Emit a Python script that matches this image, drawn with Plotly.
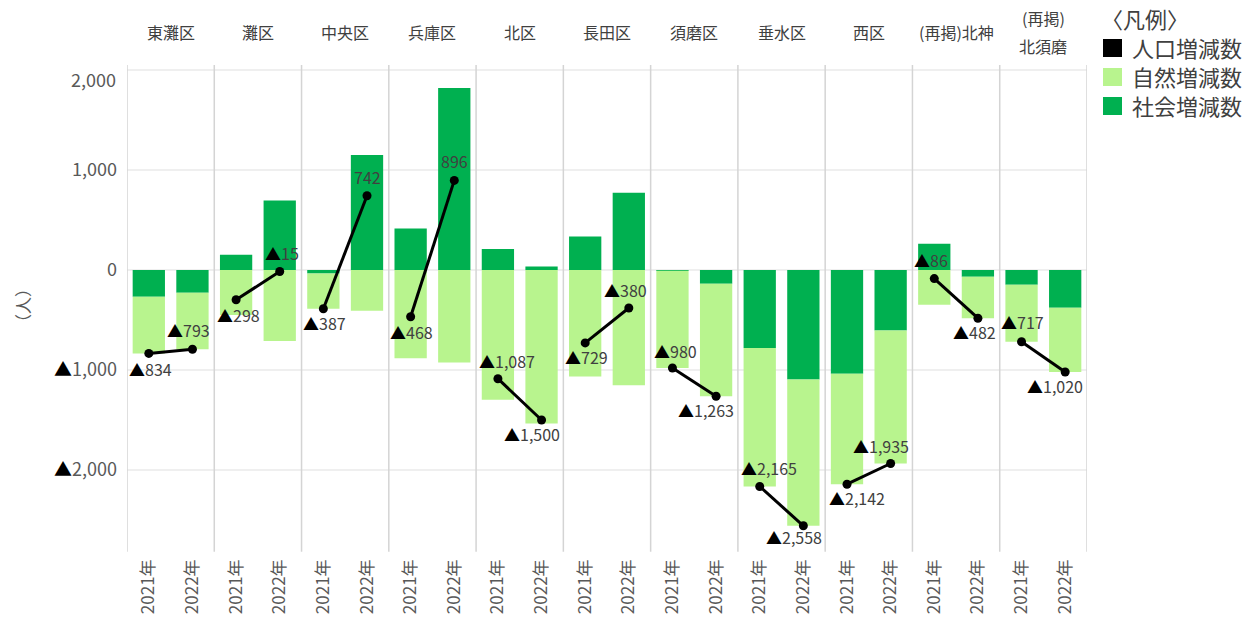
import plotly.graph_objects as go

# ---------------- data ----------------
wards = ["東灘区", "灘区", "中央区", "兵庫区", "北区", "長田区", "須磨区",
         "垂水区", "西区", "(再掲)北神", "(再掲)\n北須磨"]
years = ["2021年", "2022年"]
# 人口増減数 (population change), 2021/2022 per ward
population = [-834, -793, -298, -15, -387, 742, -468, 896, -1087, -1500,
              -729, -380, -980, -1263, -2165, -2558, -2142, -1935,
              -86, -482, -717, -1020]
# 社会増減数 (social change)
social = [-268, -228, 152, 695, -35, 1150, 415, 1820, 210, 35,
          335, 772, -8, -138, -780, -1095, -1038, -605,
          262, -67, -147, -377]
# 自然増減数 (natural change)
natural = [-566, -565, -450, -710, -352, -408, -883, -924, -1297, -1535,
           -1064, -1152, -972, -1125, -1385, -1463, -1104, -1330,
           -348, -415, -570, -643]
y_ticks = [-2000, -1000, 0, 1000, 2000]
legend_title = "〈凡例〉"
series_names = ["人口増減数", "自然増減数", "社会増減数"]
y_title = "（人）"

# ---------------- style ----------------
C_DARK = "#00B050"
C_LIGHT = "#B8F48E"
FONT = "Noto Sans CJK JP"
TXT = "#404040"
TICK = "#595959"

# label offsets (pixels) for each population label: (xshift, yshift)
label_shift = [(2, -16), (-4, 19), (2, -15), (2, 19), (1, -14), (0, 19),
               (1, -15), (0, 19), (9, 18), (-10, -14), (1, -14), (-3, 18),
               (3, 17), (-10, -14), (9, 19), (-9, -11), (10, -14), (-10, 18),
               (-3, 19), (-3, -14), (1, 20), (-10, -14)]

PL, PR, PT, PB = 127, 1087, 65, 548


def xp(px):
    return (px - PL) / (PR - PL)


def yp(py):
    return (PB - py) / (PB - PT)


def fmt(v):
    s = f"{abs(v):,}"
    return ("<span style='color:black'>▲</span>" + s) if v < 0 else s


n = len(population)
xs = list(range(n))
ticktext = [y for _ in wards for y in years]
y_ticktext = [fmt(v) for v in y_ticks]

fig = go.Figure()
fig.add_trace(go.Bar(x=xs, y=social, name=series_names[2],
                     marker=dict(color=C_DARK, line=dict(width=0)),
                     showlegend=False, hoverinfo="y"))
fig.add_trace(go.Bar(x=xs, y=natural, name=series_names[1],
                     marker=dict(color=C_LIGHT, line=dict(width=0)),
                     showlegend=False, hoverinfo="y"))

# population line: segments within each ward only
lx, ly = [], []
for g in range(len(wards)):
    lx += [2 * g, 2 * g + 1, None]
    ly += [population[2 * g], population[2 * g + 1], None]
fig.add_trace(go.Scatter(x=lx, y=ly, mode="lines+markers", name=series_names[0],
                         line=dict(color="black", width=3),
                         marker=dict(color="black", size=9),
                         showlegend=False, connectgaps=False))

annotations = []
for i, v in enumerate(population):
    dx, dy = label_shift[i]
    annotations.append(dict(x=i, y=v, xref="x", yref="y", text=fmt(v),
                            showarrow=False, xshift=dx, yshift=dy,
                            xanchor="center", yanchor="middle",
                            font=dict(family=FONT, size=16, color=TXT)))

# ward names on top
for g, w in enumerate(wards):
    lines = w.split("\n")
    if len(lines) == 1:
        annotations.append(dict(x=2 * g + 0.5, y=yp(32), xref="x", yref="paper",
                                text=w, showarrow=False, xanchor="center",
                                yanchor="middle",
                                font=dict(family=FONT, size=16, color=TXT)))
    else:
        for k, ln in enumerate(lines):
            annotations.append(dict(x=2 * g + 0.5, y=yp(18 + 28 * k), xref="x",
                                    yref="paper", text=ln, showarrow=False,
                                    xanchor="center", yanchor="middle",
                                    font=dict(family=FONT, size=16, color=TXT)))

# top y tick label (drawn slightly below its gridline, as in the original)
annotations.append(dict(x=xp(118), y=yp(79), xref="paper", yref="paper",
                        text=y_ticktext[-1], showarrow=False, xanchor="right",
                        yanchor="middle",
                        font=dict(family=FONT, size=18, color=TICK)))

# y-axis title
annotations.append(dict(x=xp(22), y=yp(306), xref="paper", yref="paper",
                        text=y_title, textangle=-90, showarrow=False,
                        xanchor="center", yanchor="middle",
                        font=dict(family=FONT, size=17, color=TICK)))

# manual legend
annotations.append(dict(x=xp(1099), y=yp(18), xref="paper", yref="paper",
                        text=legend_title, showarrow=False, xanchor="left",
                        yanchor="middle",
                        font=dict(family=FONT, size=22, color=TXT)))
leg_colors = ["black", C_LIGHT, C_DARK]
shapes = []
for k, (nm, col) in enumerate(zip(series_names, leg_colors)):
    cy = 48 + 29 * k
    shapes.append(dict(type="rect", xref="paper", yref="paper",
                       x0=xp(1103), x1=xp(1122), y0=yp(cy + 9), y1=yp(cy - 9),
                       fillcolor=col, line=dict(width=0)))
    annotations.append(dict(x=xp(1130), y=yp(cy - 1), xref="paper", yref="paper",
                            text=nm, showarrow=False, xanchor="left",
                            yanchor="middle",
                            font=dict(family=FONT, size=22, color=TXT)))

# group separators
for g in range(len(wards) + 1):
    shapes.append(dict(type="line", xref="x", yref="paper", x0=2 * g - 0.5,
                       x1=2 * g - 0.5, y0=-0.008, y1=1,
                       line=dict(color="#D4D4D4", width=1.5), layer="above"))
# dotted zero line
shapes.append(dict(type="line", xref="paper", yref="y", x0=0, x1=1, y0=0, y1=0,
                   line=dict(color="#C0C0C0", width=1.5, dash="dot"), layer="below"))

fig.update_layout(
    width=1252, height=625,
    margin=dict(l=PL, r=1252 - PR, t=PT, b=625 - PB, pad=0),
    paper_bgcolor="white", plot_bgcolor="white",
    barmode="relative", bargap=0.26,
    font=dict(family=FONT, color=TXT),
    annotations=annotations, shapes=shapes,
    xaxis=dict(range=[-0.5, n - 0.5], tickmode="array", tickvals=xs,
               ticktext=ticktext, tickangle=-90, showgrid=False,
               zeroline=False, showline=False, ticks="",
               tickfont=dict(family=FONT, size=17, color=TICK),
               ticklabelstandoff=7),
    yaxis=dict(range=[-2780, 2050], tickmode="array", tickvals=y_ticks,
               ticktext=y_ticktext[:-1] + [""], showgrid=True, gridcolor="#EFEFEF",
               gridwidth=1.5, zeroline=False, showline=False, ticks="",
               tickfont=dict(family=FONT, size=18, color=TICK),
               ticklabelstandoff=9),
)

fig.write_html("out.html", include_plotlyjs=True,
               config={"displayModeBar": False},
               post_script="document.body.style.margin='0';")
